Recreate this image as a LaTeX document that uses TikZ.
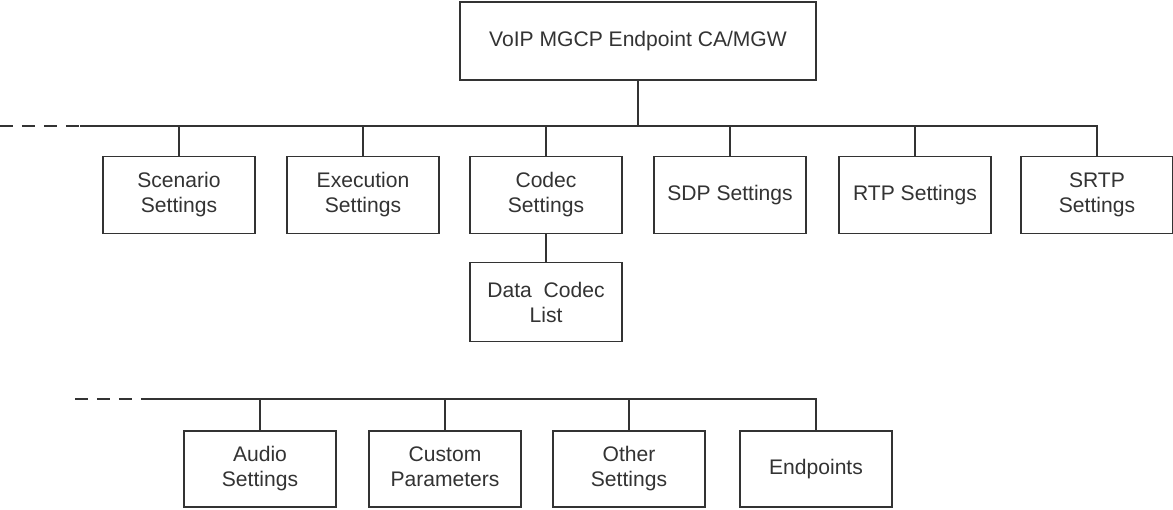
\documentclass[tikz,border=0pt]{standalone}
\usepackage{fontspec}
\setmainfont{Liberation Sans}
\usepackage{tikz}
\usetikzlibrary{positioning}
\tikzset{
  box/.style={draw=black!80,line width=0.8pt,fill=white,minimum width=3.04cm,minimum height=1.54cm,
    inner sep=0pt,align=center,text=black!80,font=\fontsize{12}{14.2}\selectfont},
  link/.style={draw=black!80,line width=0.8pt},
  ghost/.style={link,dash pattern=on 7.5pt off 5pt}
}

\begin{document}
\begin{tikzpicture}[x=0.02cm,y=-0.02cm]
  \useasboundingbox (0,0) rectangle (1173,510);
  \node[box,minimum width=7.12cm,minimum height=1.56cm] (root) at (638,41) {VoIP MGCP Endpoint CA/MGW};
  % upper bus
  \coordinate (dashA) at (0,126);
  \coordinate (busA) at (80,126);
  \draw[ghost] (dashA) -- (busA);
  \draw[link] (root.south) -- (root.south |- busA);
  \foreach \n/\x/\lab in {scen/179/{Scenario\\Settings},exec/363/{Execution\\Settings},codec/546/{Codec\\Settings},
                          sdp/730/{SDP Settings},rtp/915/{RTP Settings},srtp/1097/{SRTP\\Settings}}{
    \node[box] (\n) at (\x,195) {\lab};
    \draw[link] (\n.north) -- (\n.north |- busA);
  }
  \draw[link] (busA) -| (srtp.north);
  \node[box,minimum height=1.58cm] (dcl) at (546,302) {Data~~Codec\\List};
  \draw[link] (codec) -- (dcl);
  % lower bus
  \coordinate (dashB) at (75,399);
  \coordinate (busB) at (152,399);
  \draw[ghost] (dashB) -- (busB);
  \foreach \n/\x/\lab in {audio/260/{Audio\\Settings},cust/445/{Custom\\Parameters\vphantom{g}},
                          other/629/{Other\\Settings},endp/816/{Endpoints}}{
    \node[box,minimum height=1.52cm] (\n) at (\x,469) {\lab};
    \draw[link] (\n.north) -- (\n.north |- busB);
  }
  \draw[link] (busB) -| (endp.north);
\end{tikzpicture}
\end{document}
